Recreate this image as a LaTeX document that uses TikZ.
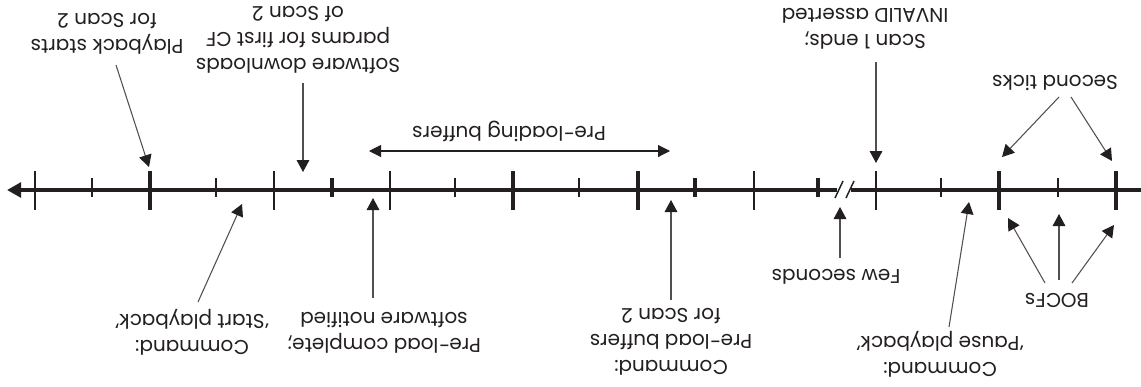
\documentclass[tikz,border=0pt]{standalone}
\usepackage{fontspec}
\setmainfont{Poppins}
\usetikzlibrary{arrows.meta}
\definecolor{ink}{RGB}{35,31,32}
\definecolor{lead}{RGB}{80,80,80}
\begin{document}
\begin{tikzpicture}[x=0.75pt,y=-0.75pt,
  lbl/.style={rotate=180, align=center, font=\fontsize{15}{19.5}\selectfont, text=ink, inner sep=0pt},
  ann/.style={draw=lead, line width=0.8pt, -{Triangle[length=9pt,width=9.5pt,color=ink]}},
  axisline/.style={draw=ink, line width=3pt},
  thintall/.style={draw=ink, line width=1.5pt},
  thickmark/.style={draw=ink, line width=3pt}]
\useasboundingbox (0,0) rectangle (1141,386);
% axis
\draw[axisline] (1141,190) -- (851,190);
\draw[axisline, -{Triangle[length=10.5pt,width=11pt]}] (837,190) -- (7,190);
\draw[ink, line width=1.1pt] (835,198) -- (843,181) (846,198) -- (854,181);
% ticks
\foreach \x in {35,274,390,754,876} \draw[thintall] (\x,171) -- (\x,210);
\foreach \x in {92,216,455,579,941,1058} \draw[thintall] (\x,178) -- (\x,197);
\foreach \x in {150,513,638,999,1116} \draw[thickmark] (\x,171) -- (\x,210);
\foreach \x in {332,695,818} \draw[thickmark] (\x,178) -- (\x,197);
% labels
\node[lbl] (n1) at (107,34) {Playback starts\\for Scan 2};
\node[lbl] (n2) at (298,40) {Software downloads\\params for first CF\\of Scan 2};
\node[lbl] (n3) at (509,131) {Pre-loading buffers};
\node[lbl] (n4) at (865,29) {Scan 1 ends;\\INVALID asserted};
\node[lbl] (n5) at (1055,83) {Second ticks};
\node[lbl] (n6) at (192,332) {Command:\\‘Start playback’};
\node[lbl] (n7) at (384,333) {Pre-load complete;\\software notified};
\node[lbl] (n8) at (836,277) {Few seconds};
\node[lbl] (n9) at (671,342) {Command:\\Pre-load buffers\\for Scan 2};
\node[lbl] (n10) at (940,354) {Command:\\‘Pause playback’};
\node[lbl] (n11) at (1057,300) {BOCFs};
% connector ends
\coordinate (s1) at (116,65);   \coordinate (t1) at (149,167);
\coordinate (s2) at (303,83);   \coordinate (t2) at (303,172);
\coordinate (pl) at (369,151);  \coordinate (pr) at (670,151);
\coordinate (s4) at (876,62);   \coordinate (t4) at (876,163);
\coordinate (s5a) at (1059,97); \coordinate (t5a) at (1002,157);
\coordinate (s5b) at (1071,97); \coordinate (t5b) at (1112,161);
\coordinate (s6) at (198,302);  \coordinate (t6) at (242,204);
\coordinate (s7) at (373,298);  \coordinate (t7) at (373,198);
\coordinate (s8) at (840,258);  \coordinate (t8) at (840,207);
\coordinate (s9) at (671,300);  \coordinate (t9) at (671,200);
\coordinate (s10) at (949,327); \coordinate (t10) at (969,202);
\coordinate (s11a) at (1045,283); \coordinate (t11a) at (1008,218);
\coordinate (s11b) at (1059,280); \coordinate (t11b) at (1059,214);
\coordinate (s11c) at (1072,283); \coordinate (t11c) at (1114,225);
% connectors
\draw[ann] (s1) -- (t1);
\draw[ann] (s2) -- (t2);
\draw[draw=ink, line width=0.8pt, {Triangle[length=9pt,width=9pt]}-{Triangle[length=9pt,width=9pt]}] (pl) -- (pr);
\draw[ann] (s4) -- (t4);
\draw[ann] (s5a) -- (t5a);
\draw[ann] (s5b) -- (t5b);
\draw[ann] (s6) -- (t6);
\draw[ann] (s7) -- (t7);
\draw[ann] (s8) -- (t8);
\draw[ann] (s9) -- (t9);
\draw[ann] (s10) -- (t10);
\draw[ann] (s11a) -- (t11a);
\draw[ann] (s11b) -- (t11b);
\draw[ann] (s11c) -- (t11c);
\end{tikzpicture}
\end{document}
